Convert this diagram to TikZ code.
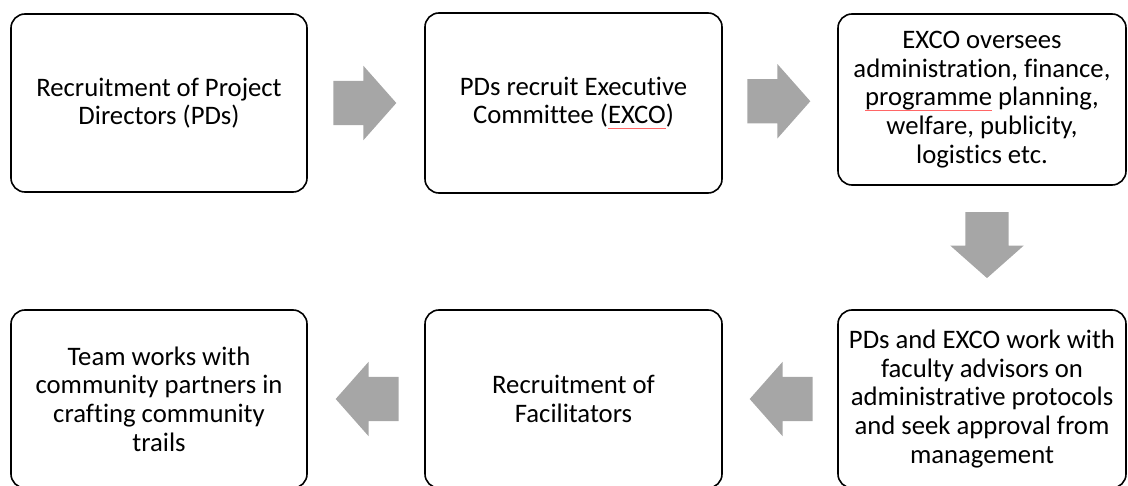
\documentclass[tikz,border=0pt]{standalone}
\usepackage{fontspec}
\setmainfont[Ligatures={NoCommon}]{Carlito}
\usetikzlibrary{shapes.arrows,calc}
\definecolor{flowgray}{RGB}{166,166,166}
% thin red spell-check mark under a word
\newcommand{\spellmark}[1]{\setbox0\hbox{#1}%
  \rlap{\textcolor{red!60}{\rule[-0.2em]{\wd0}{0.8pt}}}\box0\relax}

\begin{document}
\begin{tikzpicture}[x=1pt, y=-1pt,
    stage/.style={draw, line width=1.6pt, rounded corners=14pt,
                  minimum width=296pt, minimum height=178pt,
                  align=center, inner sep=0pt,
                  font=\fontsize{26.7}{28.6}\selectfont},
    flow/.style={single arrow, fill=flowgray, draw=none,
                 inner xsep=0pt, inner ysep=22pt, minimum height=63pt,
                 single arrow head extend=15pt, single arrow tip angle=97}
  ]
  \useasboundingbox (0,0) rectangle (1128,486);
  % Top row
  \node[stage] (pd) at (159,103) {Recruitment of Project\\Directors (PDs)};
  \node[stage, minimum width=297pt, minimum height=180pt] (exco) at (573.5,103)
    {PDs recruit Executive\\Committee (\spellmark{EXCO})};
  \node[stage, minimum width=288pt, minimum height=171pt] (duties) at (982,99.5)
    {EXCO oversees\\administration, finance,\\\spellmark{programme} planning,\\
     welfare, publicity,\\logistics etc.};
  % Bottom row
  \node[stage, minimum width=288pt] (advisors) at (982,399)
    {PDs and EXCO work with\\faculty advisors on\\administrative protocols\\
     and seek approval from\\management};
  \node[stage, minimum width=297pt] (facil) at (573.5,399)
    {Recruitment of\\Facilitators};
  \node[stage] (trails) at (159,399)
    {Team works with\\community partners in\\crafting community\\trails};
  % Block arrows between the steps
  \node[flow, xshift=-11pt] (a1) at ($(pd.east)!0.5!(exco.west)$) {};
  \node[flow, xshift=-11pt] (a2) at ($(exco.east)!0.5!(duties.west)$) {};
  \node[flow, shape border rotate=270, inner xsep=21.5pt, inner ysep=0pt,
        minimum height=66pt]
    (a3) at ($(duties.south)!0.5!(advisors.north)+(5,-12)$) {};
  \node[flow, shape border rotate=180, xshift=11pt] (a4)
    at ($(advisors.west)!0.5!(facil.east)$) {};
  \node[flow, shape border rotate=180, xshift=11pt] (a5)
    at ($(facil.west)!0.5!(trails.east)$) {};
\end{tikzpicture}
\end{document}
